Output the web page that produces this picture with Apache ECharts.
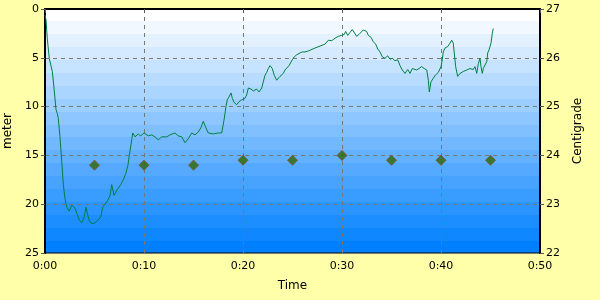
<!DOCTYPE html>
<html><head><meta charset="utf-8">
<script src="https://cdn.jsdelivr.net/npm/echarts@6/dist/echarts.min.js"></script>
<style>html,body{margin:0;padding:0;background:#FFFFAA}#c{width:600px;height:300px}</style>
</head><body><div id="c"></div>
<script>
// depth profile: time (minutes) and depth (meter)
const depthTimes = [0.0,0.10,0.23,0.43,0.74,0.91,1.11,1.24,1.34,1.52,1.69,1.85,2.02,2.19,2.45,2.70,2.86,3.03,3.20,3.46,3.71,3.94,4.14,4.27,4.47,4.72,5.05,5.28,5.48,5.63,5.83,6.06,6.29,6.57,6.74,6.97,7.30,7.65,7.91,8.18,8.38,8.52,8.76,8.86,9.09,9.42,9.67,10.0,10.43,10.78,11.11,11.44,11.79,12.29,12.63,13.13,13.46,13.81,14.14,14.47,14.82,15.15,15.48,15.73,15.99,16.26,16.49,17.0,17.51,17.85,18.08,18.28,18.41,18.59,18.79,18.92,19.12,19.36,19.6,19.87,20.2,20.37,20.54,20.81,21.04,21.38,21.62,21.89,22.22,22.39,22.56,22.73,22.96,23.16,23.40,23.57,23.74,23.91,24.07,24.24,24.41,24.65,24.85,24.98,25.18,25.42,25.76,25.99,26.26,26.6,26.77,27.27,27.78,28.28,28.62,28.79,28.96,29.29,29.63,29.97,30.23,30.37,30.58,30.81,31.04,31.24,31.48,31.72,31.92,32.15,32.32,32.49,32.66,32.93,33.16,33.40,33.61,33.84,34.07,34.34,34.62,34.85,35.08,35.35,35.63,35.86,36.09,36.36,36.64,36.87,37.10,37.30,37.54,37.78,38.05,38.31,38.56,38.72,38.82,38.99,39.22,39.46,39.73,40.0,40.13,40.23,40.40,40.68,40.91,41.08,41.24,41.34,41.48,41.68,41.92,42.25,42.6,42.93,43.26,43.43,43.61,43.77,43.94,44.04,44.17,44.27,44.44,44.62,44.72,44.85,44.95,45.05,45.18,45.28];
const depths = [0.6,1.1,3.0,5.05,6.4,8.1,10.3,10.7,11.2,13.2,15.6,18.0,19.4,20.3,20.7,20.1,19.9,20.4,20.9,21.6,21.9,21.4,20.3,20.9,21.7,22.0,21.9,21.7,21.9,21.3,20.3,20.0,19.7,19.1,18.0,19.1,18.5,18.0,17.5,16.8,16.0,15.0,13.4,12.7,13.1,12.8,13.0,12.7,13.0,12.9,13.1,13.4,13.1,13.1,12.9,12.7,13.0,13.1,13.7,13.3,12.7,12.9,12.6,12.2,11.5,12.2,12.7,12.8,12.7,12.7,11.4,10.0,9.3,9.0,8.6,9.15,9.6,9.8,9.5,9.3,9.15,8.8,8.1,8.2,8.4,8.2,8.5,8.1,6.8,6.5,6.1,5.8,6.1,6.8,7.3,7.2,6.9,6.7,6.6,6.25,6.1,5.8,5.6,5.2,4.9,4.7,4.5,4.4,4.4,4.3,4.2,4.0,3.8,3.6,3.2,3.0,3.25,3.0,2.8,2.7,2.6,2.3,2.7,2.4,2.1,2.3,2.8,2.6,2.7,2.15,2.1,2.3,2.7,2.9,3.35,3.6,4.1,4.4,4.9,5.05,4.8,5.15,5.05,5.3,5.2,5.8,6.25,6.6,6.2,6.6,6.1,5.9,6.25,6.1,5.9,6.1,6.25,7.3,8.5,7.45,7.1,6.75,6.5,5.9,5.2,4.4,4.0,3.85,3.5,3.2,3.5,4.5,5.9,6.9,6.6,6.4,6.25,6.1,6.2,5.9,6.6,5.6,5.05,5.9,6.6,6.1,6.25,5.4,4.5,4.2,4.4,3.5,2.5,2.0];
// temperature samples: time (minutes) and centigrade
const tempTimes = [5,10,15,20,25,30,35,40,45];
const temps = [23.8,23.8,23.8,23.9,23.9,24.0,23.9,23.9,23.9];
// axis ranges
const timeRange = [0, 50, 10];
const depthRange = [0, 25, 5];
const tempRange = [22, 27, 1];

function fmtTime(v){ return Math.floor(v/60) + ':' + String(v%60).padStart(2,'0'); }

// banded vertical gradient (white -> blue)
const nb = 19, stops = [];
for (let i = 0; i < nb; i++) {
  const f = i/(nb-1);
  const r = Math.round(255*(1-f)), g = Math.round(255 - 127*f);
  const c = 'rgb(' + r + ',' + g + ',255)';
  stops.push({offset: i/nb, color: c}, {offset: (i+1)/nb - 0.0001, color: c});
}

const font = 'DejaVu Sans';
const axisLabel = {color:'#000', fontFamily:font, fontSize:11};
const chart = echarts.init(document.getElementById('c'), null, {renderer:'canvas'});
chart.setOption({
  animation:false,
  backgroundColor:'#FFFFAA',
  grid:{left:45, right:60, top:9, bottom:47, containLabel:false, outerBoundsMode:'none',
    show:true, borderColor:'#000', borderWidth:1,
    backgroundColor:{type:'linear', x:0, y:0, x2:0, y2:1, colorStops:stops}},
  xAxis:{type:'value', min:timeRange[0], max:timeRange[1], interval:timeRange[2],
    name:'Time', nameLocation:'middle', nameGap:27,
    nameTextStyle:{color:'#000', fontFamily:font, fontSize:12},
    axisLine:{lineStyle:{color:'#000', width:2}},
    axisTick:{show:true, length:4, lineStyle:{color:'#555'}},
    axisLabel:Object.assign({margin:8, formatter:fmtTime}, axisLabel),
    splitLine:{show:true, lineStyle:{color:'#777', type:[4,4], width:1}}},
  yAxis:[
    {type:'value', inverse:true, min:depthRange[0], max:depthRange[1], interval:depthRange[2],
     name:'meter', nameLocation:'middle', nameGap:28, nameRotate:90,
     nameTextStyle:{color:'#000', fontFamily:font, fontSize:12},
     axisLine:{show:true, lineStyle:{color:'#000', width:2}},
     axisTick:{show:true, length:4, lineStyle:{color:'#555'}},
     axisLabel:Object.assign({margin:6}, axisLabel),
     splitLine:{show:true, lineStyle:{color:'#777', type:[4,4], width:1}}},
    {type:'value', position:'right', min:tempRange[0], max:tempRange[1], interval:tempRange[2],
     name:'Centigrade', nameLocation:'middle', nameGap:32, nameRotate:90,
     nameTextStyle:{color:'#000', fontFamily:font, fontSize:12},
     axisLine:{show:true, lineStyle:{color:'#000', width:2}},
     axisTick:{show:true, length:4, lineStyle:{color:'#555'}},
     axisLabel:Object.assign({margin:6}, axisLabel),
     splitLine:{show:false}}
  ],
  series:[
    {type:'line', yAxisIndex:0, showSymbol:false, symbol:'none',
     lineStyle:{color:'#008040', width:1}, data:depthTimes.map((t,i)=>[t, depths[i]])},
    {type:'scatter', yAxisIndex:1, symbol:'diamond', symbolSize:10,
     itemStyle:{color:'#2E6A00', borderColor:'#8A4A2A', borderWidth:1},
     data:tempTimes.map((t,i)=>[t, temps[i]])}
  ]
});
</script></body></html>
